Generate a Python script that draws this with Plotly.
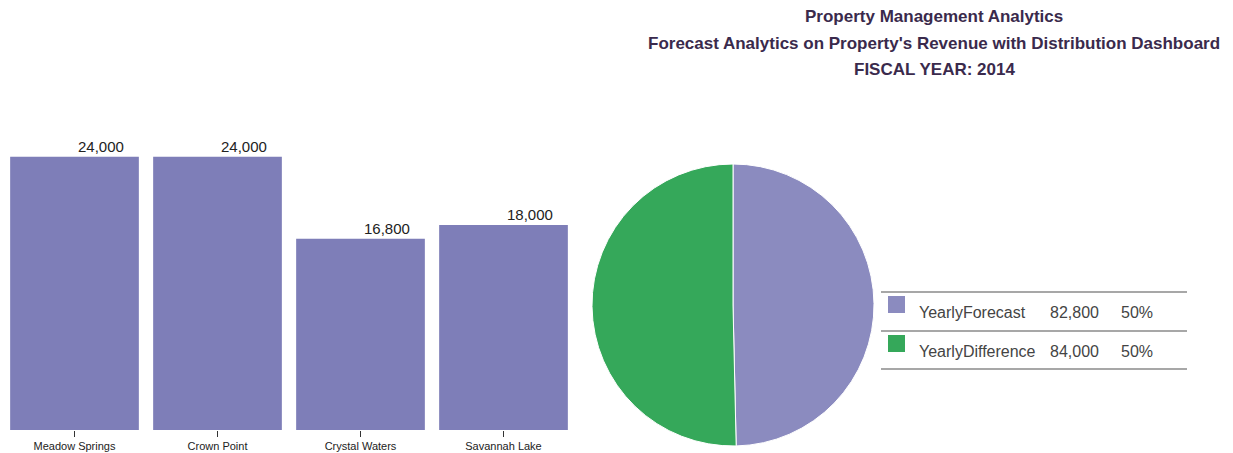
import plotly.graph_objects as go

# ---- data ----
properties = ["Meadow Springs", "Crown Point", "Crystal Waters", "Savannah Lake"]
forecast_values = [24000, 24000, 16800, 18000]
pie_labels = ["YearlyForecast", "YearlyDifference"]
pie_values = [82800, 84000]
pie_pct_text = ["50%", "50%"]

bar_color = "#7e7eb8"
pie_colors = ["#8b8bbf", "#35a85a"]
W, H = 1233, 453

fig = go.Figure()

fig.add_trace(go.Bar(
    x=properties, y=forecast_values, marker=dict(color=bar_color, line=dict(width=0)),
    showlegend=False, hoverinfo="x+y", xaxis="x", yaxis="y"))

for p, v in zip(properties, forecast_values):
    fig.add_annotation(x=p, y=v, xref="x", yref="y", text=f"{v:,}", showarrow=False,
                       xanchor="right", yanchor="bottom", xshift=51, yshift=0,
                       font=dict(family="Liberation Sans, Arial, sans-serif", size=15, color="#222"))

fig.add_trace(go.Pie(
    labels=pie_labels, values=pie_values, sort=False, direction="clockwise", rotation=0,
    marker=dict(colors=pie_colors, line=dict(color="white", width=1)),
    textinfo="none", showlegend=False,
    domain=dict(x=[592 / W, 874 / W], y=[(H - 447) / H, (H - 163) / H])))

def px_x(x):
    return x / W

def px_y(y):
    return (H - y) / H

fig.update_layout(
    width=W, height=H, margin=dict(l=0, r=0, t=0, b=0),
    paper_bgcolor="white", plot_bgcolor="white",
    bargap=0.1,
    xaxis=dict(domain=[px_x(3), px_x(575)], showgrid=False, zeroline=False, showline=False,
               ticks="outside", ticklen=6, tickcolor="#333", tickwidth=1,
               tickfont=dict(family="Liberation Sans, Arial, sans-serif", size=11, color="#222")),
    yaxis=dict(domain=[px_y(430), px_y(134)], range=[0, 26000], visible=False),
)

# Title
title_lines = ["Property Management Analytics",
               "Forecast Analytics on Property's Revenue with Distribution Dashboard",
               "FISCAL YEAR: 2014"]
for i, t in enumerate(title_lines):
    fig.add_annotation(x=px_x(934), y=px_y(17 + 26 * i), xref="paper", yref="paper", text=f"<b>{t}</b>",
                       showarrow=False, xanchor="center", yanchor="middle",
                       font=dict(family="Liberation Sans, Arial, sans-serif", size=17, color="#3a2a4c"))

# Custom legend table
for yl in [292, 331, 369]:
    fig.add_shape(type="line", xref="paper", yref="paper", x0=px_x(881), x1=px_x(1187),
                  y0=px_y(yl), y1=px_y(yl), line=dict(color="#8a8a8a", width=1.5))

for i, (lab, val, pct, col) in enumerate(zip(pie_labels, pie_values, pie_pct_text, pie_colors)):
    yc = 312 + 39 * i
    fig.add_shape(type="rect", xref="paper", yref="paper", x0=px_x(888), x1=px_x(905),
                  y0=px_y(yc + 1), y1=px_y(yc - 16), fillcolor=col, line=dict(width=0))
    lf = dict(family="Liberation Sans, Arial, sans-serif", size=16, color="#444")
    fig.add_annotation(x=px_x(917), y=px_y(yc), xref="paper", yref="paper", text=lab, showarrow=False,
                       xanchor="left", yanchor="middle", font=lf)
    fig.add_annotation(x=px_x(1101), y=px_y(yc), xref="paper", yref="paper", text=f"{val:,}", showarrow=False,
                       xanchor="right", yanchor="middle", font=lf)
    fig.add_annotation(x=px_x(1155), y=px_y(yc), xref="paper", yref="paper", text=pct, showarrow=False,
                       xanchor="right", yanchor="middle", font=lf)

fig.write_html("out.html", config={"displayModeBar": False},
               post_script="document.body.style.margin='0';document.body.style.overflow='hidden';")
